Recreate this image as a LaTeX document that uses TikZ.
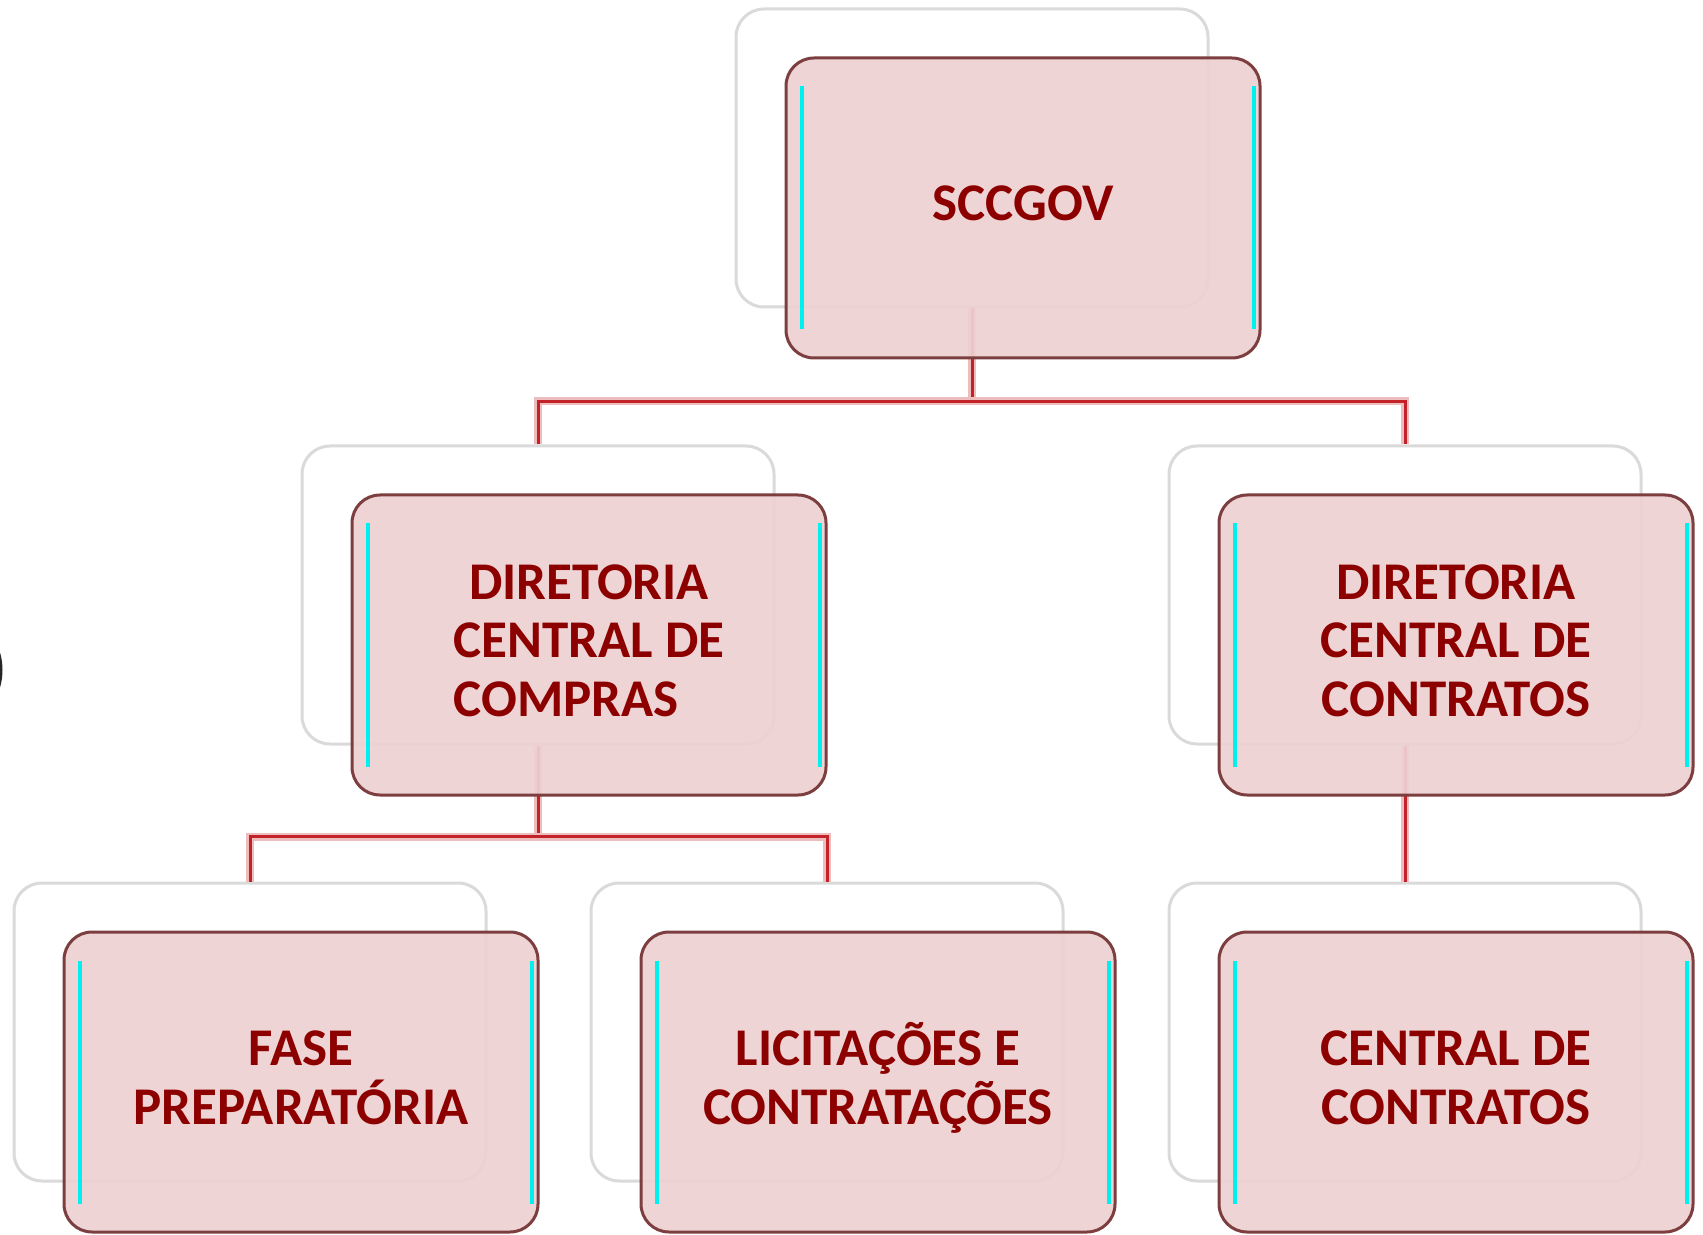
\documentclass[tikz,border=0pt]{standalone}
\usepackage{fontspec}
\setmainfont{Carlito}
\usepackage{calc}
\usetikzlibrary{positioning,calc}

\definecolor{boxfill}{RGB}{237,209,210}
\definecolor{boxline}{RGB}{125,62,64}
\definecolor{boxtext}{RGB}{140,0,0}
\definecolor{linkred}{RGB}{195,35,40}
\definecolor{backline}{RGB}{218,218,218}
\definecolor{streak}{RGB}{0,240,240}

\tikzset{
  backbox/.style={draw=backline, line width=1.5pt, fill=white,
    rounded corners=14pt, minimum width=236pt, minimum height=149pt},
  frontbox/.style={draw=boxline, line width=1.5pt, fill=boxfill, fill opacity=0.93,
    rounded corners=14pt, minimum width=237pt, minimum height=150pt},
  boxlabel/.style={align=center, text=boxtext,
    font=\fontsize{26.5}{29.3}\selectfont\bfseries},
  link/.style={draw=linkred, line width=1.5pt,
    preaction={draw=linkred!30, line width=4pt}},
  glitch/.style={draw=streak, line width=2pt}
}

% cyan streaks inside a front box
\newcommand{\streaks}[1]{%
  \draw[glitch] ([shift={(17,30)}]#1.north west) -- ([shift={(17,-30)}]#1.south west);
  \draw[glitch] ([shift={(-8,30)}]#1.north east) -- ([shift={(-8,-30)}]#1.south east);
}

\begin{document}
\begin{tikzpicture}[x=0.5pt, y=-0.5pt]

% Page frame (pixel units, y downwards)
\useasboundingbox (0,0) rectangle (1703,1235);

% Offset of the front box from its back box
\def\dx{51}
\def\dy{50}

% Dark sliver at the left edge
\draw[black!85, line width=1.5pt] (-22,670) ellipse (23 and 38);

% Back boxes
\node[backbox] (topB) at (972,158) {};
\node[backbox] (dccB) at (538,595) {};
\node[backbox] (dctB) at (1405,595) {};
\node[backbox] (fpB)  at (250,1032) {};
\node[backbox] (lcB)  at (827,1032) {};
\node[backbox] (cdcB) at (1405,1032) {};

% Junctions
\coordinate (j1) at ($(topB.south)+(0,93)$);
\coordinate (j2) at ($(dccB.south)+(0,91)$);

% Connectors
\draw[link] (topB.south) -- (j1);
\draw[link] (dccB.north) |- (j1) -| (dctB.north);
\draw[link] (dccB.south) -- (j2);
\draw[link] (fpB.north) |- (j2) -| (lcB.north);
\draw[link] (dctB.south) -- (cdcB.north);

% Front boxes
\foreach \n in {top,dcc,dct,fp,lc,cdc}{
  \node[frontbox] (\n) at ([shift={(\dx,\dy)}]\n B.center) {};
  \streaks{\n}
}

% Labels
\node[boxlabel] (topT) at ([yshift=2.2pt]top.center) {SCCGOV};
\node[boxlabel] (dccT) at ([yshift=2.2pt]dcc.center)
  {DIRETORIA\\CENTRAL DE\\\makebox[\widthof{CENTRAL DE}][l]{COMPRAS}};
\node[boxlabel] (dctT) at ([yshift=2.2pt]dct.center) {DIRETORIA\\CENTRAL DE\\CONTRATOS};
\node[boxlabel] (fpT)  at ([yshift=2.2pt]fp.center) {FASE\\PREPARATÓRIA};
\node[boxlabel] (lcT)  at ([yshift=2.2pt]lc.center) {LICITAÇÕES E\\CONTRATAÇÕES};
\node[boxlabel] (cdcT) at ([yshift=2.2pt]cdc.center) {CENTRAL DE\\CONTRATOS};

\end{tikzpicture}
\end{document}
